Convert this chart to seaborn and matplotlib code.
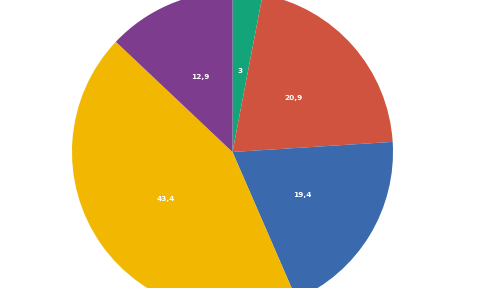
import matplotlib
matplotlib.use("Agg")
import matplotlib.pyplot as plt
import seaborn as sns

categories = ["A", "B", "C", "D", "E"]
values = [3, 20.9, 19.4, 43.4, 12.9]
labels = ["3", "20,9", "19,4", "43,4", "12,9"]
colors = ["#13A479", "#CF533F", "#3A69AD", "#F2B701", "#7E3C8E"]

sns.set_style("white")
palette = sns.color_palette(colors)

W, H = 480, 288
fig = plt.figure(figsize=(W / 100, H / 100), dpi=100)
ax = fig.add_axes([0, 0, 1, 1])

cx, cy, r = 232.5, 152.0, 160.5
wedges, texts = ax.pie(values, labels=labels, colors=palette, startangle=90,
                       counterclock=False, labeldistance=0.51,
                       wedgeprops=dict(linewidth=0),
                       textprops=dict(color="white", fontsize=5.3, fontweight="bold",
                                      ha="center", va="center"))
for t in texts:
    t.set_ha("center")
    t.set_va("center")
ax.set_aspect("auto")
ax.set_xlim(-cx / r, (W - cx) / r)
ax.set_ylim(-(H - cy) / r, cy / r)
ax.axis("off")
fig.savefig("out.png", dpi=100)
